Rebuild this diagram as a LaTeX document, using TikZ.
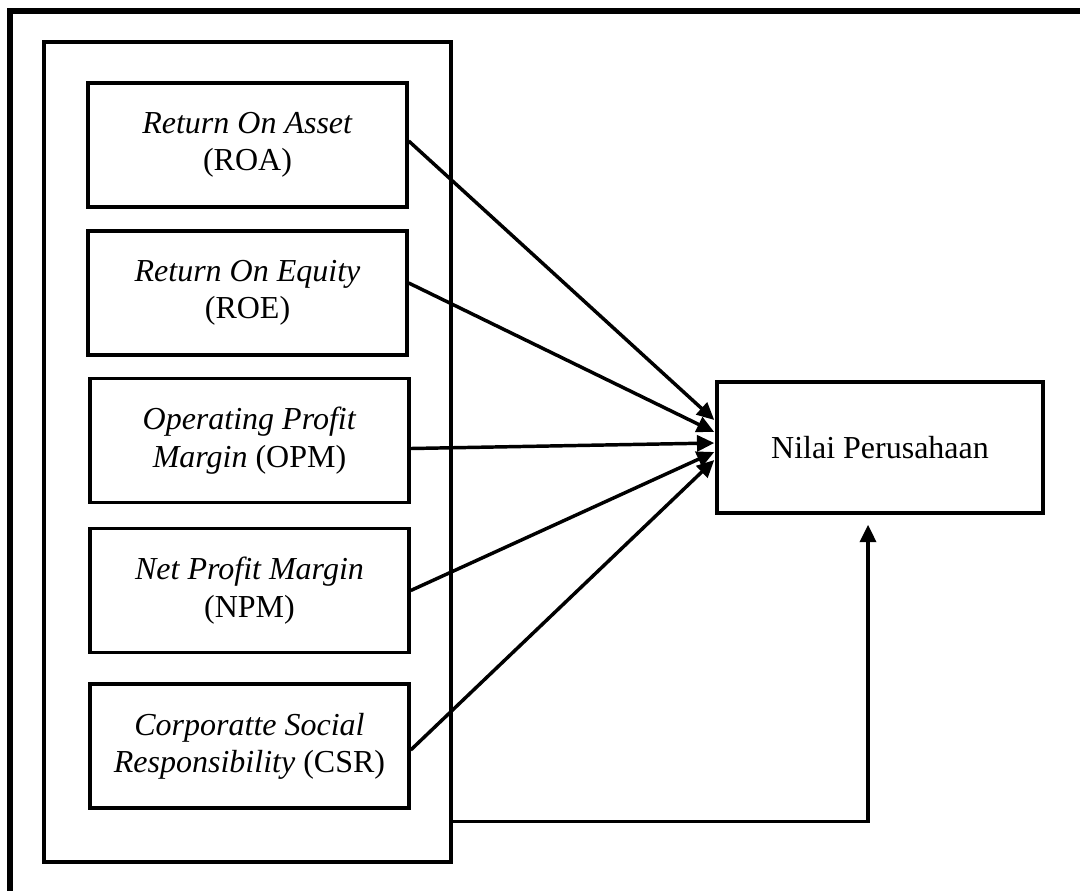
\documentclass[tikz,border=0pt]{standalone}
\usepackage{fontspec}
\setmainfont{Liberation Serif}
\usetikzlibrary{arrows.meta,calc}
\begin{document}
\begin{tikzpicture}[x=0.75pt,y=-0.75pt,
  varbox/.style={draw,line width=2.6pt,minimum width=319*0.75pt,minimum height=124*0.75pt,align=center,inner sep=0pt,font=\fontsize{24}{28}\selectfont},
  conn/.style={line width=2.6pt,-{Triangle[length=13pt,width=12pt]}}]
\useasboundingbox (0,0) rectangle (1080,890);
\clip (0,0) rectangle (1080,890);
\fill[white] (0,0) rectangle (1080,890);
% outer frame (cut off at right and bottom)
\draw[line width=4.6pt] (10,900) -- (10,11) -- (1095,11);
% container
\node[draw,line width=2.4pt,minimum width=407*0.75pt,minimum height=820*0.75pt,inner sep=0pt] (cont) at (247.5,452) {};
% variable boxes
\node[varbox] (roa) at (247.5,145) {\textit{Return On Asset}\\(ROA)};
\node[varbox] (roe) at (247.5,293) {\textit{Return On Equity}\\(ROE)};
\node[varbox] (opm) at (249.5,440.5) {\textit{Operating Profit}\\\textit{Margin} (OPM)};
\node[varbox] (npm) at (249.5,590.5) {\textit{Net Profit Margin}\\(NPM)};
\node[varbox] (csr) at (249.5,746) {\textit{Corporatte Social}\\\textit{Responsibility} (CSR)};
% dependent
\node[draw,line width=2.6pt,minimum width=326*0.75pt,minimum height=131*0.75pt,inner sep=0pt,font=\fontsize{24}{28}\selectfont] (nilai) at (880,447.5) {Nilai Perusahaan};
% arrows
\draw[conn] ($(roa.east)+(0,-4)$) -- ($(nilai.west)+(-1,-27.5)$);
\draw[conn] ($(roe.east)+(0,-10)$) -- ($(nilai.west)+(-1,-15.5)$);
\draw[conn] ($(opm.east)+(0,8)$) -- ($(nilai.west)+(-1,-4.5)$);
\draw[conn] ($(npm.east)+(0,0)$) -- ($(nilai.west)+(-1,4.5)$);
\draw[conn] ($(csr.east)+(0,4)$) -- ($(nilai.west)+(-1,12.5)$);
\coordinate (fbend) at ($(nilai.south)+(-12,10)$);
\draw[conn] ($(cont.south east)+(0,-42)$) -| (fbend);
\end{tikzpicture}
\end{document}
